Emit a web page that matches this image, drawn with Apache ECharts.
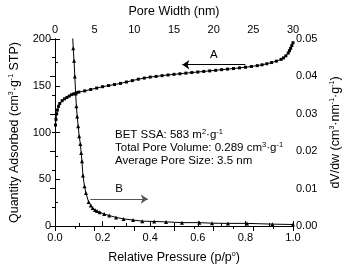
<!DOCTYPE html>
<html><head><meta charset="utf-8">
<script src="https://cdn.jsdelivr.net/npm/echarts@6/dist/echarts.min.js"></script>
<style>html,body{margin:0;padding:0;background:#fff}#c{width:350px;height:269px}</style>
</head><body><div id="c"></div>
<script>
// Isotherm (A): relative pressure vs quantity adsorbed
const pressure = [0.002,0.004,0.007,0.01,0.015,0.02,0.03,0.04,0.05,0.06,0.07,0.08,0.09,0.1,0.125,0.15,0.175,0.2,0.225,0.25,0.275,0.3,0.325,0.35,0.375,0.4,0.425,0.45,0.475,0.5,0.525,0.55,0.575,0.6,0.625,0.65,0.675,0.7,0.725,0.75,0.775,0.8,0.825,0.85,0.87,0.89,0.91,0.93,0.95,0.96,0.97,0.98,0.985,0.99,0.995,1.0];
const adsorbed = [108,114,120,124,128,131,134,136,137.5,139,140.5,141.5,142.5,143.2,144.5,146,147.5,149,150.2,151.3,152.5,154,155.5,157,158.2,159.3,160,160.8,161.5,162.2,162.8,163.5,164.1,164.7,165.3,165.9,166.5,167.2,167.8,168.4,169.1,169.8,170.6,171.5,172.4,173.5,174.8,176.3,178.2,179.8,182,185,187.5,190,193,196];
// Pore size distribution (B): pore width vs dV/dw
const poreWidth = [2.1,2.3,2.4,2.5,2.6,2.7,2.8,2.92,3.05,3.2,3.3,3.4,3.52,3.72,3.9,4.24,4.52,4.75,5.04,5.3,5.64,6.2,6.84,7.7,8.64,9.84,11.0,12.5,14.0,16.0,18.2,19.8,21.8,24.2,27.4,30.0];
const dVdw = [0.056,0.0475,0.0442,0.040,0.0354,0.032,0.0293,0.0267,0.024,0.0219,0.0195,0.0173,0.0135,0.0106,0.0088,0.0064,0.0055,0.0048,0.0043,0.0040,0.0037,0.0032,0.0028,0.0023,0.0019,0.0016,0.0013,0.0012,0.0011,0.0009,0.0009,0.00075,0.0007,0.0007,0.0005,0.0004];
const xTicksBottom = [0,0.2,0.4,0.6,0.8,1.0];
const xTicksTop = [0,5,10,15,20,25,30];
const yTicksLeft = [0,50,100,150,200];
const yTicksRight = [0,0.01,0.02,0.03,0.04,0.05];
const statLines = [
  ['BET SSA: 583 m','2','·g','-1',''],
  ['Total Pore Volume: 0.289 cm','3','·g','-1',''],
  ['Average Pore Size: 3.5 nm','','','','']
];

const FONT = '"Liberation Sans", Arial, sans-serif';
const chart = echarts.init(document.getElementById('c'), null, {renderer:'canvas'});
const sup = {fontSize: 7, fontFamily: FONT, color:'#000', verticalAlign:'top', padding:[0,0,6,0]};
const nm = {fontSize: 12.5, fontFamily: FONT, color:'#000'};
function axisCommon(){
  return {
    axisLine:{show:true, lineStyle:{color:'#000', width:1}},
    axisTick:{show:true, inside:true, length:5, lineStyle:{color:'#000'}},
    minorTick:{show:true, splitNumber:2, length:3, lineStyle:{color:'#000'}},
    splitLine:{show:false},
    axisLabel:{color:'#000', fontSize:11, fontFamily:FONT, margin:4},
    nameLocation:'middle',
    nameTextStyle:{color:'#000', fontSize:12.5, fontFamily:FONT, rich:{n:nm, s:sup}}
  };
}
const xb = Object.assign(axisCommon(), {type:'value', position:'bottom', min:xTicksBottom[0], max:xTicksBottom[xTicksBottom.length-1], interval:0.2,
  name:'{n|Relative Pressure (p/p}{s|o}{n|)}', nameGap:25});
xb.axisLabel.formatter = v => v.toFixed(1);
xb.axisLabel.margin = 6;
const xt = Object.assign(axisCommon(), {type:'value', position:'top', min:xTicksTop[0], max:xTicksTop[xTicksTop.length-1], interval:5,
  name:'Pore Width (nm)', nameGap:21});
const yl = Object.assign(axisCommon(), {type:'value', position:'left', min:yTicksLeft[0], max:yTicksLeft[yTicksLeft.length-1], interval:50,
  name:'{n|Quantity Adsorbed (cm}{s|3}{n|·g}{s|-1}{n| STP)}', nameGap:34});
const yr = Object.assign(axisCommon(), {type:'value', position:'right', min:yTicksRight[0], max:yTicksRight[yTicksRight.length-1], interval:0.01,
  name:'{n|dV/dw (cm}{s|3}{n|·nm}{s|-1}{n|·g}{s|-1}{n|)}', nameGap:36});
yr.axisLabel.formatter = v => v.toFixed(2);
yr.axisLabel.margin = 3;

const rich = {t:{fontSize:11.5, fontFamily:FONT, color:'#000'}, s:{fontSize:7.5, fontFamily:FONT, color:'#000', verticalAlign:'top', padding:[0,0,5,0]}};
const graphics = statLines.map((l,i)=>{
  let txt = '{t|'+l[0]+'}';
  if (l[1]) txt += '{s|'+l[1]+'}';
  if (l[2]) txt += '{t|'+l[2]+'}';
  if (l[3]) txt += '{s|'+l[3]+'}';
  return {type:'text', left:115, top:128 + i*13.2, style:{text:txt, rich:rich, fill:'#000'}};
});

chart.setOption({
  animation:false,
  backgroundColor:'#fff',
  grid:{left:48, right:51, top:33, bottom:37},
  xAxis:[xb, xt],
  yAxis:[yl, yr],
  graphic: graphics,
  series:[
    {type:'line', xAxisIndex:0, yAxisIndex:0, data:pressure.map((p,i)=>[p, adsorbed[i]]),
     symbol:'rect', symbolSize:3, showSymbol:true, lineStyle:{color:'#000', width:1}, itemStyle:{color:'#000'},
     markLine:{silent:true, symbol:['none','arrow'], symbolSize:[7,7], lineStyle:{color:'#000', width:1, type:'solid'},
       label:{show:true, position:'middle', formatter:'A', color:'#000', fontSize:11.5, fontFamily:FONT, distance:4},
       data:[[{coord:[0.80,172.5]},{coord:[0.535,172.5]}]]}},
    {type:'line', xAxisIndex:1, yAxisIndex:1, data:poreWidth.map((w,i)=>[w, dVdw[i]]),
     symbol:'triangle', symbolSize:4, showSymbol:true, clip:true, lineStyle:{color:'#000', width:1}, itemStyle:{color:'#000'},
     markLine:{silent:true, symbol:['none','arrow'], symbolSize:[7,7], lineStyle:{color:'#555', width:1.2, type:'solid'},
       label:{show:true, position:'middle', formatter:'B', color:'#000', fontSize:11.5, fontFamily:FONT, distance:4},
       data:[[{coord:[4.45,0.0072]},{coord:[11.7,0.0072]}]]}}
  ]
});
</script></body></html>
